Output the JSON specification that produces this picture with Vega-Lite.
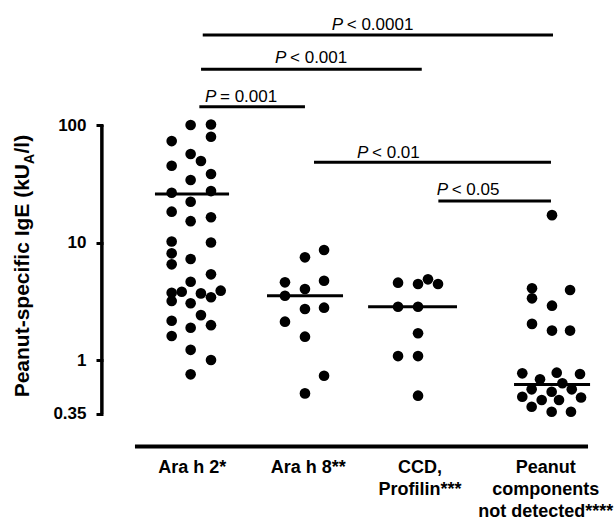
{
  "$schema": "https://vega.github.io/schema/vega-lite/v6.json",
  "width": 497,
  "height": 425,
  "autosize": "none",
  "padding": {"left": 103, "top": 20, "right": 16, "bottom": 77},
  "config": {"view": {"stroke": null}, "font": "Liberation Sans"},
  "datasets": {
    "points": [
      {"group": "Ara h 2*", "x": 0.976, "y": 100}, {"group": "Ara h 2*", "x": 1.156, "y": 101}, {"group": "Ara h 2*", "x": 1.156, "y": 79.5}, {"group": "Ara h 2*", "x": 0.808, "y": 73},
      {"group": "Ara h 2*", "x": 0.976, "y": 56.6}, {"group": "Ara h 2*", "x": 1.067, "y": 49.4}, {"group": "Ara h 2*", "x": 0.808, "y": 45}, {"group": "Ara h 2*", "x": 1.156, "y": 38.3},
      {"group": "Ara h 2*", "x": 0.976, "y": 34}, {"group": "Ara h 2*", "x": 0.808, "y": 26.5}, {"group": "Ara h 2*", "x": 1.156, "y": 27.4}, {"group": "Ara h 2*", "x": 0.976, "y": 22.2},
      {"group": "Ara h 2*", "x": 0.808, "y": 18.3}, {"group": "Ara h 2*", "x": 0.976, "y": 15.2}, {"group": "Ara h 2*", "x": 1.156, "y": 16.4}, {"group": "Ara h 2*", "x": 0.808, "y": 10.2},
      {"group": "Ara h 2*", "x": 1.156, "y": 10.0}, {"group": "Ara h 2*", "x": 0.808, "y": 8.09}, {"group": "Ara h 2*", "x": 0.808, "y": 6.52}, {"group": "Ara h 2*", "x": 0.976, "y": 7.24},
      {"group": "Ara h 2*", "x": 1.156, "y": 5.36}, {"group": "Ara h 2*", "x": 0.976, "y": 4.64}, {"group": "Ara h 2*", "x": 1.242, "y": 3.89}, {"group": "Ara h 2*", "x": 0.808, "y": 3.74},
      {"group": "Ara h 2*", "x": 0.897, "y": 3.81}, {"group": "Ara h 2*", "x": 1.067, "y": 3.69}, {"group": "Ara h 2*", "x": 1.156, "y": 3.42}, {"group": "Ara h 2*", "x": 0.808, "y": 3.18},
      {"group": "Ara h 2*", "x": 0.976, "y": 3.04}, {"group": "Ara h 2*", "x": 1.067, "y": 2.41}, {"group": "Ara h 2*", "x": 0.808, "y": 2.16}, {"group": "Ara h 2*", "x": 1.156, "y": 1.98},
      {"group": "Ara h 2*", "x": 0.976, "y": 1.88}, {"group": "Ara h 2*", "x": 0.808, "y": 1.60}, {"group": "Ara h 2*", "x": 0.976, "y": 1.22}, {"group": "Ara h 2*", "x": 1.156, "y": 1.0},
      {"group": "Ara h 2*", "x": 0.976, "y": 0.755},
      {"group": "Ara h 8**", "x": 2.157, "y": 8.63}, {"group": "Ara h 8**", "x": 1.988, "y": 7.48}, {"group": "Ara h 8**", "x": 1.811, "y": 4.58}, {"group": "Ara h 8**", "x": 2.157, "y": 4.73},
      {"group": "Ara h 8**", "x": 1.988, "y": 4.02}, {"group": "Ara h 8**", "x": 1.811, "y": 3.52}, {"group": "Ara h 8**", "x": 1.988, "y": 2.72}, {"group": "Ara h 8**", "x": 2.157, "y": 2.79},
      {"group": "Ara h 8**", "x": 1.811, "y": 2.12}, {"group": "Ara h 8**", "x": 1.988, "y": 1.58}, {"group": "Ara h 8**", "x": 2.157, "y": 0.735}, {"group": "Ara h 8**", "x": 1.988, "y": 0.52},
      {"group": "CCD, Profilin***", "x": 2.812, "y": 4.55}, {"group": "CCD, Profilin***", "x": 2.989, "y": 4.43}, {"group": "CCD, Profilin***", "x": 3.077, "y": 4.86}, {"group": "CCD, Profilin***", "x": 3.166, "y": 4.43},
      {"group": "CCD, Profilin***", "x": 2.812, "y": 2.84}, {"group": "CCD, Profilin***", "x": 2.989, "y": 2.84}, {"group": "CCD, Profilin***", "x": 2.989, "y": 1.69}, {"group": "CCD, Profilin***", "x": 2.812, "y": 1.08},
      {"group": "CCD, Profilin***", "x": 2.989, "y": 1.08}, {"group": "CCD, Profilin***", "x": 2.989, "y": 0.497},
      {"group": "Peanut components not detected****", "x": 4.175, "y": 17.1}, {"group": "Peanut components not detected****", "x": 3.998, "y": 4.08}, {"group": "Peanut components not detected****", "x": 3.998, "y": 3.35},
      {"group": "Peanut components not detected****", "x": 4.335, "y": 3.94}, {"group": "Peanut components not detected****", "x": 4.175, "y": 2.90}, {"group": "Peanut components not detected****", "x": 3.998, "y": 2.03},
      {"group": "Peanut components not detected****", "x": 4.175, "y": 1.78}, {"group": "Peanut components not detected****", "x": 4.335, "y": 1.78}, {"group": "Peanut components not detected****", "x": 3.912, "y": 0.77},
      {"group": "Peanut components not detected****", "x": 4.217, "y": 0.78}, {"group": "Peanut components not detected****", "x": 4.423, "y": 0.76}, {"group": "Peanut components not detected****", "x": 4.069, "y": 0.685},
      {"group": "Peanut components not detected****", "x": 4.267, "y": 0.634}, {"group": "Peanut components not detected****", "x": 3.995, "y": 0.563}, {"group": "Peanut components not detected****", "x": 4.172, "y": 0.537},
      {"group": "Peanut components not detected****", "x": 4.350, "y": 0.563}, {"group": "Peanut components not detected****", "x": 3.912, "y": 0.487}, {"group": "Peanut components not detected****", "x": 4.084, "y": 0.457},
      {"group": "Peanut components not detected****", "x": 4.237, "y": 0.457}, {"group": "Peanut components not detected****", "x": 4.432, "y": 0.48}, {"group": "Peanut components not detected****", "x": 3.995, "y": 0.40},
      {"group": "Peanut components not detected****", "x": 4.172, "y": 0.363}, {"group": "Peanut components not detected****", "x": 4.343, "y": 0.363}
    ],
    "lines": [
      {"kind": "median", "x": 0.660, "x2": 1.316, "y": 25.9},
      {"kind": "median", "x": 1.652, "x2": 2.325, "y": 3.52},
      {"kind": "median", "x": 2.547, "x2": 3.334, "y": 2.84},
      {"kind": "median", "x": 3.839, "x2": 4.512, "y": 0.62},
      {"kind": "bar", "x": 1.083, "x2": 4.184, "y": 583},
      {"kind": "bar", "x": 1.068, "x2": 3.022, "y": 298},
      {"kind": "bar", "x": 1.053, "x2": 1.988, "y": 143},
      {"kind": "bar", "x": 2.068, "x2": 4.166, "y": 48.2},
      {"kind": "bar", "x": 3.169, "x2": 4.166, "y": 22.5}
    ],
    "ptext": [
      {"x": 2.225, "y": 644, "p": "P", "rest": "< 0.0001"},
      {"x": 1.723, "y": 337, "p": "P", "rest": "< 0.001"},
      {"x": 1.103, "y": 158, "p": "P", "rest": "= 0.001"},
      {"x": 2.449, "y": 52.1, "p": "P", "rest": "< 0.01"},
      {"x": 3.154, "y": 25.4, "p": "P", "rest": "< 0.05"}
    ],
    "cats": [
      {"x": 0.990, "y": 0.1092, "label": "Ara h 2*"},
      {"x": 2.017, "y": 0.1092, "label": "Ara h 8**"},
      {"x": 3.007, "y": 0.1092, "label": "CCD,\nProfilin***"},
      {"x": 4.120, "y": 0.1092, "label": "Peanut\ncomponents\nnot detected****"}
    ],
    "yaxisline": [{"x": 0.19, "y": 0.35, "y2": 100}],
    "xaxisline": [{"x": 0.483, "x2": 4.494, "y": 0.1836}],
    "ytitle": [{"x": -0.455, "y": 46.6, "main": "Peanut-specific IgE (kU", "sub": "A", "tail": "/l)"}]
  },
  "encoding": {
    "x": {"field": "x", "type": "quantitative", "scale": {"domain": [0.2, 4.6], "nice": false, "zero": false}, "axis": null},
    "y": {
      "field": "y", "type": "quantitative",
      "scale": {"type": "log", "domain": [0.1891, 782.7], "nice": false},
      "axis": {
        "values": [0.35, 1, 10, 100], "format": "~g", "title": null, "domain": false, "grid": false,
        "ticks": true, "tickSize": 7, "tickWidth": 3, "tickColor": "black",
        "labelFont": "Liberation Sans", "labelFontWeight": "bold", "labelFontSize": 17, "labelColor": "black", "labelPadding": 10
      }
    }
  },
  "layer": [
    {"data": {"name": "yaxisline"}, "mark": {"type": "rule", "strokeWidth": 3.5, "color": "black"}, "encoding": {"y2": {"field": "y2"}}},
    {"data": {"name": "xaxisline"}, "mark": {"type": "rule", "strokeWidth": 4, "color": "black"}, "encoding": {"x2": {"field": "x2"}}},
    {"data": {"name": "lines"}, "mark": {"type": "rule", "strokeWidth": 3, "color": "black"}, "encoding": {"x2": {"field": "x2"}}},
    {"data": {"name": "points"}, "mark": {"type": "circle", "size": 113, "color": "black", "opacity": 1}},
    {"data": {"name": "ptext"}, "mark": {"type": "text", "align": "left", "baseline": "alphabetic", "fontSize": 17, "fontStyle": "italic", "font": "Liberation Sans", "color": "black"}, "encoding": {"text": {"field": "p"}}},
    {"data": {"name": "ptext"}, "mark": {"type": "text", "align": "left", "baseline": "alphabetic", "fontSize": 17, "dx": 15, "font": "Liberation Sans", "color": "black"}, "encoding": {"text": {"field": "rest"}}},
    {"data": {"name": "cats"}, "mark": {"type": "text", "align": "center", "baseline": "alphabetic", "fontSize": 18, "fontWeight": "bold", "font": "Liberation Sans", "lineBreak": "\n", "lineHeight": 22, "color": "black"}, "encoding": {"text": {"field": "label"}}},
    {"data": {"name": "ytitle"}, "mark": {"type": "text", "align": "right", "baseline": "alphabetic", "angle": 270, "fontSize": 21, "fontWeight": "bold", "font": "Liberation Sans", "color": "black"}, "encoding": {"text": {"field": "main"}}},
    {"data": {"name": "ytitle"}, "mark": {"type": "text", "align": "left", "baseline": "alphabetic", "angle": 270, "dy": 5, "fontSize": 14, "fontWeight": "bold", "font": "Liberation Sans", "color": "black"}, "encoding": {"text": {"field": "sub"}}},
    {"data": {"name": "ytitle"}, "mark": {"type": "text", "align": "left", "baseline": "alphabetic", "angle": 270, "dx": 10.5, "fontSize": 21, "fontWeight": "bold", "font": "Liberation Sans", "color": "black"}, "encoding": {"text": {"field": "tail"}}}
  ]
}
